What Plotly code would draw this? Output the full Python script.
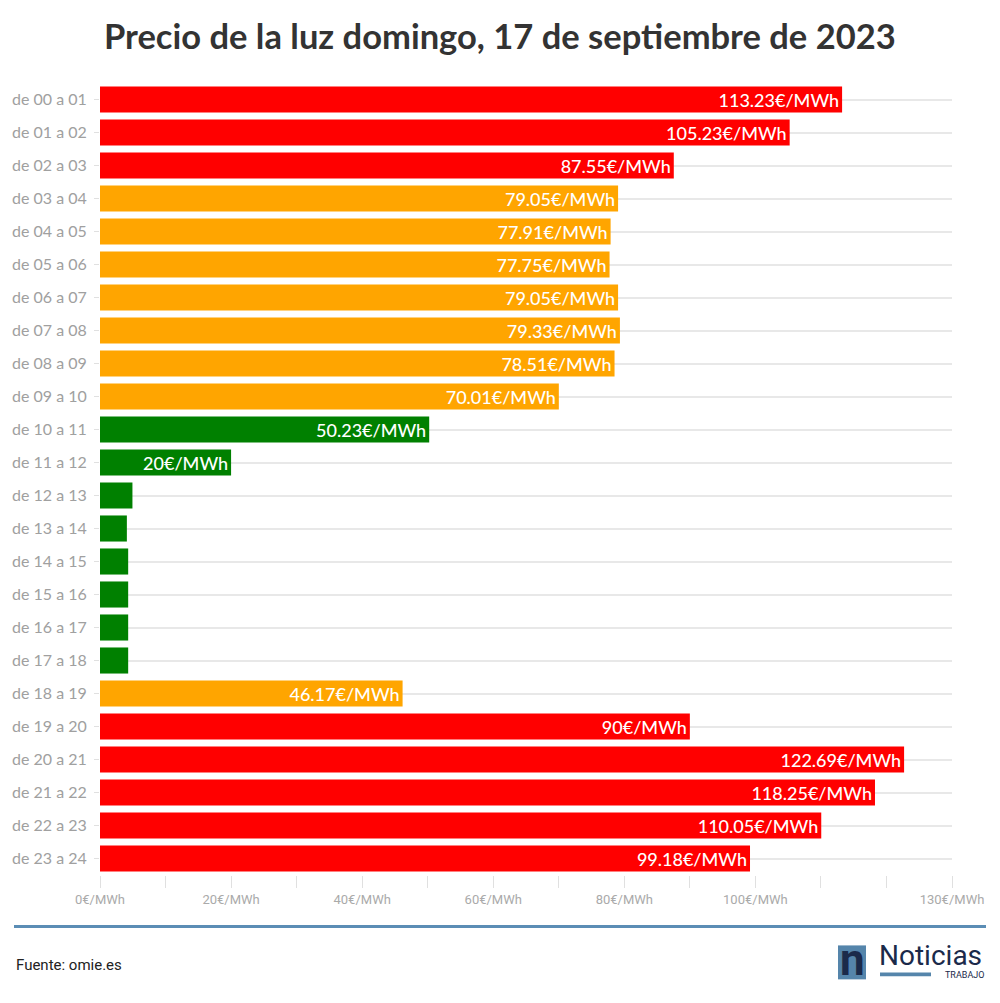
import plotly.graph_objects as go

hours = ["de 00 a 01", "de 01 a 02", "de 02 a 03", "de 03 a 04", "de 04 a 05", "de 05 a 06",
         "de 06 a 07", "de 07 a 08", "de 08 a 09", "de 09 a 10", "de 10 a 11", "de 11 a 12",
         "de 12 a 13", "de 13 a 14", "de 14 a 15", "de 15 a 16", "de 16 a 17", "de 17 a 18",
         "de 18 a 19", "de 19 a 20", "de 20 a 21", "de 21 a 22", "de 22 a 23", "de 23 a 24"]
prices = [113.23, 105.23, 87.55, 79.05, 77.91, 77.75, 79.05, 79.33, 78.51, 70.01, 50.23, 20,
          4.95, 4.1, 4.3, 4.3, 4.3, 4.3, 46.17, 90, 122.69, 118.25, 110.05, 99.18]
labels = ["113.23€/MWh", "105.23€/MWh", "87.55€/MWh", "79.05€/MWh", "77.91€/MWh", "77.75€/MWh",
          "79.05€/MWh", "79.33€/MWh", "78.51€/MWh", "70.01€/MWh", "50.23€/MWh", "20€/MWh",
          "", "", "", "", "", "",
          "46.17€/MWh", "90€/MWh", "122.69€/MWh", "118.25€/MWh", "110.05€/MWh", "99.18€/MWh"]
bar_colors = ["#ff0000", "#ff0000", "#ff0000", "#ffa500", "#ffa500", "#ffa500",
              "#ffa500", "#ffa500", "#ffa500", "#ffa500", "#008000", "#008000",
              "#008000", "#008000", "#008000", "#008000", "#008000", "#008000",
              "#ffa500", "#ff0000", "#ff0000", "#ff0000", "#ff0000", "#ff0000"]
tick_vals = [0, 10, 20, 30, 40, 50, 60, 70, 80, 90, 100, 110, 120, 130]
tick_text = ["0€/MWh", "", "20€/MWh", "", "40€/MWh", "", "60€/MWh", "", "80€/MWh", "",
             "100€/MWh", "", "", "130€/MWh"]

W, H = 1000, 1003
L, R, T, B = 100, 952, 82.5, 875.5

def px(x):
    return (x - L) / (R - L)

def py(y):
    return (B - y) / (B - T)

fig = go.Figure(go.Bar(
    x=prices, y=hours, orientation="h",
    marker=dict(color=bar_colors, line=dict(width=0)),
    width=0.79,
    text=labels, textposition="inside", insidetextanchor="end",
    textfont=dict(color="white", size=18, family="Lato", weight=500),
    constraintext="none", cliponaxis=False,
    hoverinfo="x+y",
))

shapes = [
    dict(type="line", xref="paper", yref="paper", x0=px(14), x1=px(986), y0=py(927), y1=py(927),
         line=dict(color="#5b8db5", width=3)),
    dict(type="rect", xref="paper", yref="paper", x0=px(838), x1=px(866), y0=py(980), y1=py(946),
         fillcolor="#5585ab", line=dict(width=0)),
    dict(type="rect", xref="paper", yref="paper", x0=px(880), x1=px(931), y0=py(977), y1=py(973),
         fillcolor="#5585ab", line=dict(width=0)),
]

annotations = [
    dict(text="<b>Precio de la luz domingo, 17 de septiembre de 2023</b>", xref="paper", yref="paper",
         x=px(500), y=py(35), xanchor="center", yanchor="middle", showarrow=False,
         font=dict(size=34.5, color="#333333", family="Lato", weight=900)),
    dict(text="Fuente: omie.es", xref="paper", yref="paper", x=px(14), y=py(966),
         xanchor="left", yanchor="middle", showarrow=False,
         font=dict(size=15, color="#222222", family="Roboto")),
    dict(text="<b>n</b>", xref="paper", yref="paper", x=px(852), y=py(961),
         xanchor="center", yanchor="middle", showarrow=False,
         font=dict(size=44, color="#1b2a4a", family="Roboto")),
    dict(text="Noticias", xref="paper", yref="paper", x=px(877), y=py(956),
         xanchor="left", yanchor="middle", showarrow=False,
         font=dict(size=28, color="#1b2a4a", family="Roboto")),
    dict(text="TRABAJO", xref="paper", yref="paper", x=px(986), y=py(976),
         xanchor="right", yanchor="middle", showarrow=False,
         font=dict(size=9, color="#1b2a4a", family="Roboto")),
]

fig.update_layout(
    width=W, height=H,
    margin=dict(l=L, r=W - R, t=T, b=H - B, pad=0),
    paper_bgcolor="white", plot_bgcolor="white",
    showlegend=False,
    shapes=shapes,
    annotations=annotations,
    xaxis=dict(range=[0, 130], tickvals=tick_vals, ticktext=tick_text,
               ticks="outside", ticklen=12, tickcolor="#e0e0e0", tickwidth=1,
               showgrid=False, zeroline=False, showline=False,
               tickfont=dict(size=13, color="#aaaaaa", family="Roboto"), fixedrange=True),
    yaxis=dict(autorange="reversed", ticks="outside", ticklen=5, tickcolor="#e0e0e0",
               showgrid=True, gridcolor="#e8e8e8", gridwidth=2, zeroline=False, showline=False,
               tickfont=dict(size=16, color="#a0a0a0", family="Lato"), ticklabelstandoff=4),
    font=dict(family="Lato"),
)

fig.write_html("out.html", config={"displayModeBar": False},
               post_script="document.body.style.margin='0';document.body.style.overflow='hidden';")
